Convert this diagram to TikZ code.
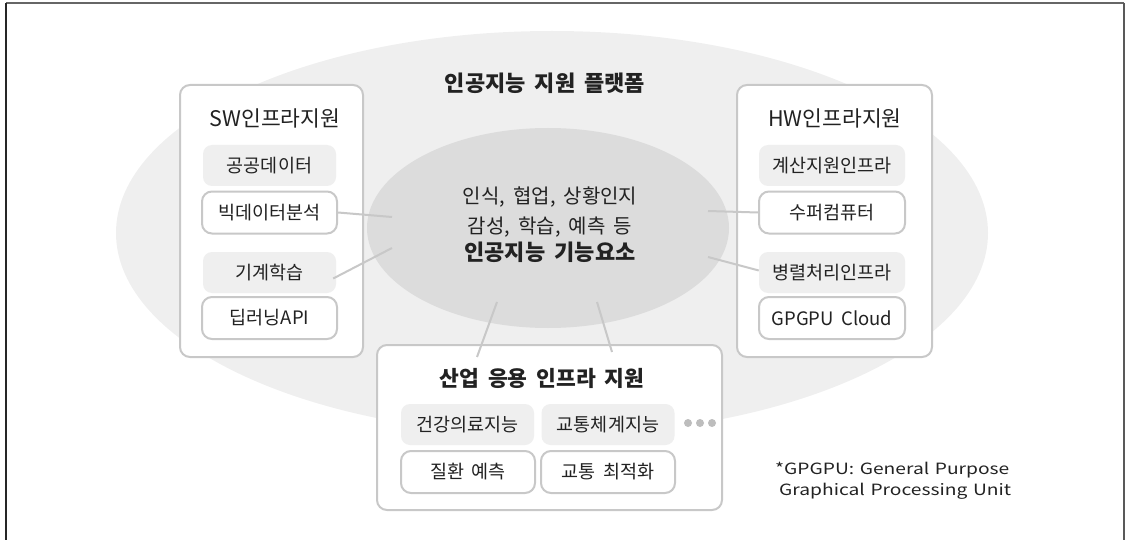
\documentclass[tikz,border=0pt]{standalone}
\usepackage{fontspec}
\setmainfont{Noto Sans CJK KR}[WordSpace=1.8]
\newfontfamily\notefont{Noto Sans CJK KR}[FakeStretch=1.24, WordSpace=1.3]
\usetikzlibrary{shapes.geometric}
\definecolor{outerfill}{HTML}{EFEFEF}
\definecolor{innerfill}{HTML}{DCDCDC}
\definecolor{boxline}{HTML}{C8C8C8}
\definecolor{subfill}{HTML}{EFEFEF}
\definecolor{txt}{HTML}{222222}
\definecolor{dotc}{HTML}{BDBDBD}
\tikzset{
  group/.style={draw=boxline, line width=2pt, rounded corners=10pt, fill=white, inner sep=0pt},
  graybox/.style={fill=subfill, rounded corners=9pt, minimum height=41pt, inner sep=0pt, text=txt, font=\fontsize{18.5}{20}\selectfont},
  linebox/.style={draw=boxline, line width=2pt, fill=white, rounded corners=10pt, minimum height=42pt, inner sep=0pt, text=txt, font=\fontsize{18.5}{20}\selectfont},
  conn/.style={draw=boxline, line width=2pt},
  gtitle/.style={text=txt, font=\fontsize{21.5}{24}\selectfont},
}
\begin{document}
\begin{tikzpicture}[x=1pt,y=-1pt]
\useasboundingbox (0,0) rectangle (1126,540);
% frame
\draw[line width=2pt, color=black!60] (6,3) -- (1124,3);
\draw[line width=2pt, color=black!85] (6,3) -- (6,540);
\draw[line width=2pt, color=black!65] (1124,3) -- (1124,540);
% outer ellipse
\node[ellipse, fill=outerfill, minimum width=872pt, minimum height=404pt, inner sep=0pt] (platform) at (552,233) {};
\node[text=txt, font=\fontsize{22}{24}\selectfont\bfseries] (ptitle) at (545,83) {인공지능 지원 플랫폼};
% inner ellipse
\node[ellipse, fill=innerfill, minimum width=362pt, minimum height=200pt, inner sep=0pt] (core) at (548,228) {};
\node[text=txt, font=\fontsize{20}{30}\selectfont, align=center] (coretext) at (550,212) {인식, 협업, 상황인지\\감성, 학습, 예측 등};
\node[text=txt, font=\fontsize{22}{24}\selectfont\bfseries] (coretitle) at (550,252) {인공지능 기능요소};
% SW box
\node[group, minimum width=183pt, minimum height=272pt] (sw) at (271.5,221) {};
\node[gtitle] (swt) at (275,118) {SW인프라지원};
\node[graybox, minimum width=133pt] (pub) at (269.5,165.5) {공공데이터};
\node[linebox, minimum width=135pt] (bigd) at (269.5,212.5) {빅데이터분석};
\node[graybox, minimum width=133pt] (ml) at (269.5,272.5) {기계학습};
\node[linebox, minimum width=135pt] (dl) at (269.5,318) {딥러닝API};
% HW box
\node[group, minimum width=195pt, minimum height=272pt] (hw) at (834.5,221) {};
\node[gtitle] (hwt) at (835,118) {HW인프라지원};
\node[graybox, minimum width=146pt] (calc) at (832,165.5) {계산지원인프라};
\node[linebox, minimum width=146pt] (super) at (832,212.5) {수퍼컴퓨터};
\node[graybox, minimum width=146pt] (para) at (832,272.5) {병렬처리인프라};
\node[linebox, minimum width=146pt] (gpgpu) at (832,318) {GPGPU Cloud};
% industry box
\node[group, minimum width=345pt, minimum height=165pt] (ind) at (549.5,427.5) {};
\node[text=txt, font=\fontsize{21.5}{24}\selectfont\bfseries] (indt) at (542,378) {산업 응용 인프라 지원};
\node[graybox, minimum width=133pt] (health) at (467.5,424.5) {건강의료지능};
\node[graybox, minimum width=133pt] (traffic) at (608,424.5) {교통체계지능};
\node[linebox, minimum width=134pt] (disease) at (468,472) {질환 예측};
\node[linebox, minimum width=134pt] (opt) at (608,472) {교통 최적화};
\foreach \i/\xx in {1/688,2/700,3/712}
  \node[circle, fill=dotc, minimum size=8pt, inner sep=0pt] (dot\i) at (\xx,423) {};
% connector ends inside the core ellipse
\coordinate (e1) at (392,217);
\coordinate (e2) at (392,248);
\coordinate (e3) at (708,211);
\coordinate (e4) at (708,257);
\coordinate (e5) at (497,302);
\coordinate (e6) at (597,302);
\coordinate (s5) at (477,357);
\coordinate (s6) at (612,352);
\draw[conn] (bigd.east) -- (e1);
\draw[conn] ([shift={(-3pt,-6pt)}]ml.east) -- (e2);
\draw[conn] (super.west) -- (e3);
\draw[conn] ([yshift=2pt]para.west) -- (e4);
\draw[conn] (s5) -- (e5);
\draw[conn] (s6) -- (e6);
% footnote
\node[text=txt, font=\notefont\fontsize{15.5}{21}\selectfont, align=left, anchor=north west, inner sep=0pt] (note) at (775,462) {*GPGPU: General Purpose\\\hspace*{4pt}Graphical Processing Unit};
\end{tikzpicture}
\end{document}
